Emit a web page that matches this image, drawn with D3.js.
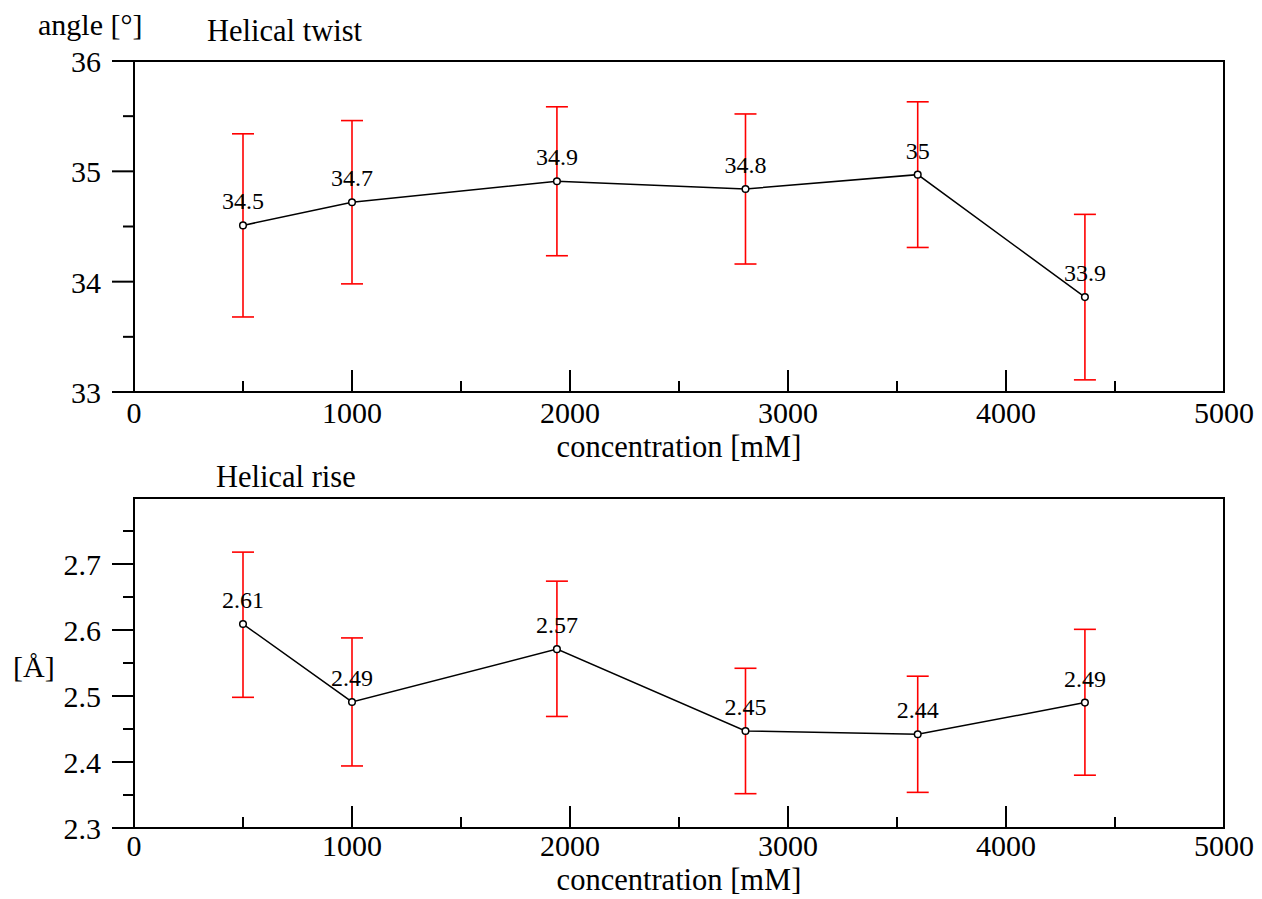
<!DOCTYPE html>
<html><head><meta charset="utf-8">
<script src="https://cdn.jsdelivr.net/npm/d3@7"></script>
<style>body{margin:0;background:#fff}text{font-family:"Liberation Serif","Times New Roman",serif;fill:#000}</style>
</head><body>
<svg id="c" width="1262" height="899"></svg>
<script>
const conc = [500, 1000, 1940, 2805, 3595, 4362];
const twist = [34.51, 34.72, 34.91, 34.84, 34.97, 33.86];
const twistErr = [0.83, 0.74, 0.675, 0.68, 0.66, 0.75];
const twistLabels = ["34.5", "34.7", "34.9", "34.8", "35", "33.9"];
const rise = [2.609, 2.491, 2.571, 2.447, 2.442, 2.490];
const riseErrUp = [0.109, 0.097, 0.103, 0.095, 0.088, 0.111];
const riseErrDn = [0.111, 0.097, 0.102, 0.095, 0.088, 0.110];
const riseLabels = ["2.61", "2.49", "2.57", "2.45", "2.44", "2.49"];
const xTicks = [0, 1000, 2000, 3000, 4000, 5000];
const xMinor = [500, 1500, 2500, 3500, 4500];
const twistTicks = [33, 34, 35, 36];
const twistMinor = [33.5, 34.5, 35.5];
const riseTicks = [2.3, 2.4, 2.5, 2.6, 2.7];
const riseMinor = [2.35, 2.45, 2.55, 2.65, 2.75];

const svg = d3.select("#c");
const L = 134, R = 1224;

function panel(cfg) {
  const x = d3.scaleLinear().domain([0, 5000]).range([L, R]);
  const y = d3.scaleLinear().domain(cfg.ydom).range([cfg.bottom, cfg.top]);
  const g = svg.append("g");
  // y ticks (outward)
  g.selectAll(".ymaj").data(cfg.yticks).enter().append("line")
    .attr("x1", L - 22).attr("x2", L).attr("y1", d => y(d)).attr("y2", d => y(d))
    .attr("stroke", "#000").attr("stroke-width", 2);
  g.selectAll(".ymin").data(cfg.yminor).enter().append("line")
    .attr("x1", L - 11).attr("x2", L).attr("y1", d => y(d)).attr("y2", d => y(d))
    .attr("stroke", "#000").attr("stroke-width", 2);
  g.selectAll(".ylab").data(cfg.yticks).enter().append("text")
    .attr("x", 101).attr("y", d => y(d) + 11).attr("text-anchor", "end")
    .attr("font-size", 30).text(d => cfg.yfmt(d));
  // x ticks (inward)
  g.selectAll(".xmaj").data(xTicks).enter().append("line")
    .attr("x1", d => x(d)).attr("x2", d => x(d)).attr("y1", cfg.bottom).attr("y2", cfg.bottom - 22)
    .attr("stroke", "#000").attr("stroke-width", 2);
  g.selectAll(".xmin").data(xMinor).enter().append("line")
    .attr("x1", d => x(d)).attr("x2", d => x(d)).attr("y1", cfg.bottom).attr("y2", cfg.bottom - 11)
    .attr("stroke", "#000").attr("stroke-width", 2);
  g.selectAll(".xlab").data(xTicks).enter().append("text")
    .attr("x", d => x(d)).attr("y", cfg.xtickY).attr("text-anchor", "middle")
    .attr("font-size", 30).text(d => d);
  // frame
  g.append("rect").attr("x", L).attr("y", cfg.top).attr("width", R - L).attr("height", cfg.bottom - cfg.top)
    .attr("fill", "none").attr("stroke", "#000").attr("stroke-width", 2);
  // error bars
  const eb = g.selectAll(".eb").data(conc).enter().append("g").attr("stroke", "#ff0000").attr("stroke-width", 1.6);
  eb.append("line").attr("x1", d => x(d)).attr("x2", d => x(d))
    .attr("y1", (d, i) => y(cfg.v[i] + cfg.eu[i])).attr("y2", (d, i) => y(cfg.v[i] - cfg.ed[i]));
  eb.append("line").attr("x1", d => x(d) - 11).attr("x2", d => x(d) + 11)
    .attr("y1", (d, i) => y(cfg.v[i] + cfg.eu[i])).attr("y2", (d, i) => y(cfg.v[i] + cfg.eu[i]));
  eb.append("line").attr("x1", d => x(d) - 11).attr("x2", d => x(d) + 11)
    .attr("y1", (d, i) => y(cfg.v[i] - cfg.ed[i])).attr("y2", (d, i) => y(cfg.v[i] - cfg.ed[i]));
  // line
  g.append("path").datum(conc.map((c, i) => [c, cfg.v[i]]))
    .attr("d", d3.line().x(d => x(d[0])).y(d => y(d[1])))
    .attr("fill", "none").attr("stroke", "#000").attr("stroke-width", 1.5);
  g.selectAll(".pt").data(conc).enter().append("circle")
    .attr("cx", d => x(d)).attr("cy", (d, i) => y(cfg.v[i])).attr("r", 3.3)
    .attr("fill", "#fff").attr("stroke", "#000").attr("stroke-width", 1.5);
  g.selectAll(".vl").data(conc).enter().append("text")
    .attr("x", d => x(d)).attr("y", (d, i) => y(cfg.v[i]) - 16).attr("text-anchor", "middle")
    .attr("font-size", 24).text((d, i) => cfg.labels[i]);
  // titles
  g.append("text").attr("x", 679).attr("y", cfg.xlabY).attr("text-anchor", "middle")
    .attr("font-size", 30.5).text("concentration [mM]");
  g.append("text").attr("x", cfg.titleX).attr("y", cfg.titleY)
    .attr("font-size", 30.5).text(cfg.title);
  g.append("text").attr("x", cfg.ylabX).attr("y", cfg.ylabY)
    .attr("font-size", 30).text(cfg.ylab);
}

panel({ydom: [33, 36], top: 61, bottom: 392, yticks: twistTicks, yminor: twistMinor, yfmt: d => d,
  v: twist, eu: twistErr, ed: twistErr, labels: twistLabels, xtickY: 423, xlabY: 457,
  title: "Helical twist", titleX: 207, titleY: 41, ylab: "angle [°]", ylabX: 38, ylabY: 35});
panel({ydom: [2.3, 2.8], top: 498, bottom: 828, yticks: riseTicks, yminor: riseMinor, yfmt: d3.format(".1f"),
  v: rise, eu: riseErrUp, ed: riseErrDn, labels: riseLabels, xtickY: 856, xlabY: 890,
  title: "Helical rise", titleX: 216, titleY: 487, ylab: "[Å]", ylabX: 13, ylabY: 677});
</script>
</body></html>
